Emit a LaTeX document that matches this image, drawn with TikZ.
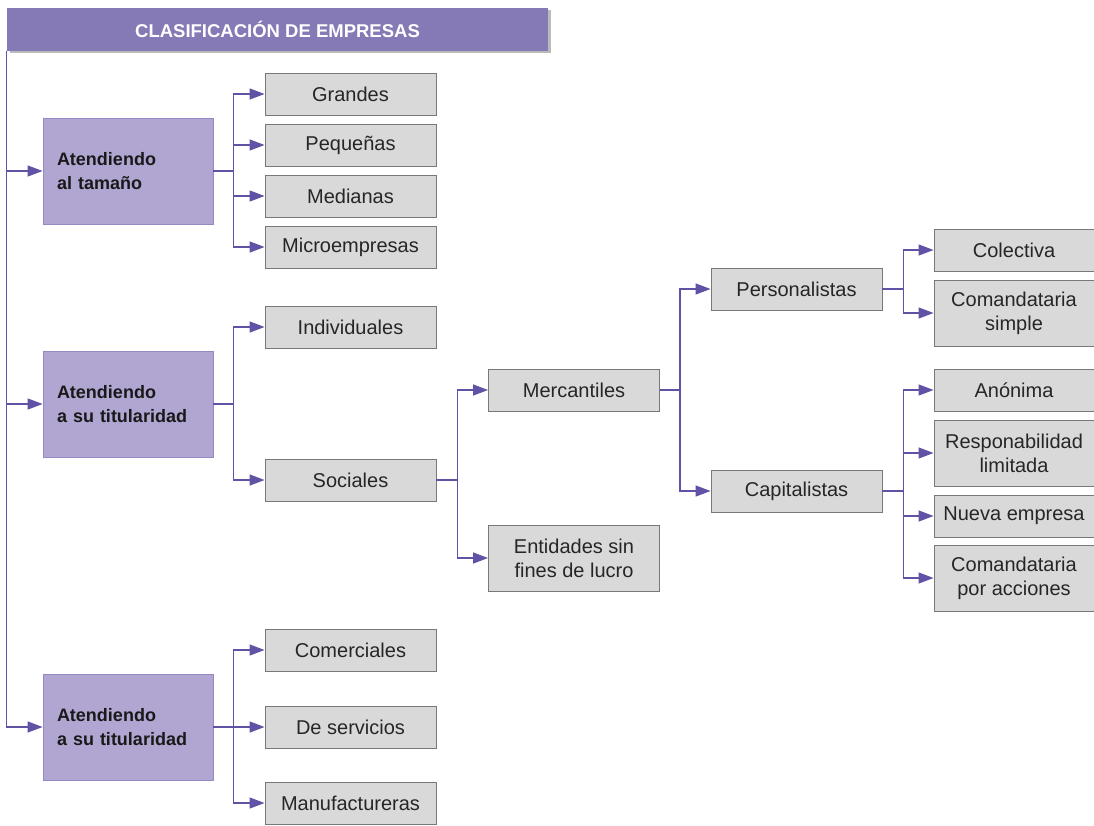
\documentclass[tikz,border=0pt]{standalone}
\usepackage{fontspec}
\setmainfont{Liberation Sans}
\usetikzlibrary{arrows.meta,positioning,shadows}

\definecolor{titlepurple}{RGB}{133,121,182}
\definecolor{catfill}{RGB}{177,165,210}
\definecolor{catborder}{RGB}{150,136,196}
\definecolor{itemfill}{RGB}{217,217,217}
\definecolor{itemborder}{RGB}{120,120,120}
\definecolor{linkpurple}{RGB}{98,82,165}

\begin{document}
\begin{tikzpicture}[x=1pt,y=-1pt,>={Triangle[length=15pt,width=11pt]},
  title/.style={fill=titlepurple,text=white,minimum width=541pt,minimum height=43pt,inner sep=0pt,font=\fontsize{18.5}{22}\selectfont\bfseries,drop shadow={shadow xshift=2.5pt,shadow yshift=-2.5pt,fill=black!45,opacity=.6}},
  cat/.style={draw=catborder,fill=catfill,line width=.8pt,minimum width=170pt,minimum height=106pt,text width=142pt,align=left,inner sep=0pt,text=black!90,font=\fontsize{18}{24}\selectfont\bfseries},
  item/.style={draw=itemborder,fill=itemfill,line width=.9pt,minimum width=171pt,minimum height=42pt,align=center,inner sep=0pt,text=black!85,font=\fontsize{20}{24}\selectfont},
  tall/.style={minimum height=66pt},
  narrow/.style={minimum width=160pt},
  link/.style={draw=linkpurple,line width=1.3pt,->}]
\useasboundingbox (0,0) rectangle (1094,825);
\node[title] (title) at (277.5,29) {CLASIFICACIÓN DE EMPRESAS};
% categorias
\node[cat] (tam) at (128,171) {Atendiendo\\al tamaño};
\node[cat] (tit) at (128,404) {Atendiendo\\a su titularidad};
\node[cat] (act) at (128,727) {Atendiendo\\a su titularidad};
% tamano
\node[item] (grandes) at (350.5,94) {Grandes};
\node[item] (pequenas) at (350.5,145) {Pequeñas};
\node[item] (medianas) at (350.5,196) {Medianas};
\node[item] (micro) at (350.5,247) {Microempresas};
% titularidad
\node[item] (indiv) at (350.5,327) {Individuales};
\node[item] (soc) at (350.5,480) {Sociales};
\node[item] (merc) at (574,390) {Mercantiles};
\node[item,tall] (sinlucro) at (574,558) {Entidades sin\\fines de lucro};
\node[item] (pers) at (796.5,289) {Personalistas};
\node[item] (capi) at (796.5,491) {Capitalistas};
\node[item,narrow] (colec) at (1014,250) {Colectiva};
\node[item,narrow,tall] (comsim) at (1014,313) {Comandataria\\simple};
\node[item,narrow] (anon) at (1014,390) {Anónima};
\node[item,narrow,tall] (resp) at (1014,453) {Responabilidad\\limitada};
\node[item,narrow] (nueva) at (1014,516) {Nueva empresa};
\node[item,narrow,tall] (comacc) at (1014,578) {Comandataria\\por acciones};
% actividad
\node[item] (comer) at (350.5,650) {Comerciales};
\node[item] (serv) at (350.5,727) {De servicios};
\node[item] (manuf) at (350.5,803) {Manufactureras};
% conectores
\foreach \c in {tam,tit,act}
  \draw[link] (title.south west) |- (\c.west);
\foreach \c in {grandes,pequenas,medianas,micro}
  \draw[link] (tam.east) -- ++(20,0) |- (\c.west);
\foreach \c in {indiv,soc}
  \draw[link] (tit.east) -- ++(20,0) |- (\c.west);
\foreach \c in {comer,serv,manuf}
  \draw[link] (act.east) -- ++(20,0) |- (\c.west);
\foreach \c in {merc,sinlucro}
  \draw[link] (soc.east) -- ++(21,0) |- (\c.west);
\foreach \c in {pers,capi}
  \draw[link] (merc.east) -- ++(20,0) |- (\c.west);
\foreach \c in {colec,comsim}
  \draw[link] (pers.east) -- ++(21,0) |- (\c.west);
\foreach \c in {anon,resp,nueva,comacc}
  \draw[link] (capi.east) -- ++(21,0) |- (\c.west);
\end{tikzpicture}
\end{document}
